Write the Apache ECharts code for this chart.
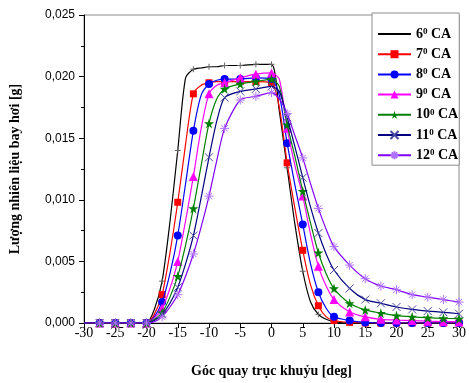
<!DOCTYPE html>
<html>
<head>
<meta charset="utf-8">
<script src="https://cdn.jsdelivr.net/npm/echarts@6/dist/echarts.min.js"></script>
<style>html,body{margin:0;padding:0;background:#fff}#c{width:469px;height:383px}</style>
</head>
<body>
<div id="c"></div>
<script>
// Crank angle (deg)
const angles = [-30,-27.5,-25,-22.5,-20,-18.75,-17.5,-16.25,-15,-13.75,-12.5,-11.25,-10,-8.75,-7.5,-5,-2.5,0,1.25,2.5,3.75,5,6.25,7.5,8.75,10,12.5,15,17.5,20,22.5,25,27.5,30];
// Evaporated fuel amount [g] per injection timing
const ca6  = [0,0,0,0,0,0.0011,0.0034,0.0082,0.0140,0.0199,0.0206,0.0207,0.0208,0.0208,0.0209,0.0209,0.0210,0.0210,0.0172,0.0126,0.0080,0.0042,0.0017,0.0007,0.0003,0.0001,0,0,0,0,0,0,0,0];
const ca7  = [0,0,0,0,0,0.0007,0.0023,0.0057,0.0098,0.0145,0.0186,0.0193,0.0195,0.0196,0.0196,0.0196,0.0196,0.0195,0.0175,0.0130,0.0093,0.0059,0.0031,0.0014,0.0005,0.0002,0.00005,0,0,0,0,0,0,0];
const ca8  = [0,0,0,0,0,0.0005,0.0017,0.0040,0.0071,0.0113,0.0156,0.0185,0.0194,0.0197,0.0198,0.0198,0.0199,0.0198,0.0185,0.0146,0.0112,0.0080,0.0048,0.0025,0.0012,0.0005,0.0002,0.00005,0,0,0,0,0,0];
const ca9  = [0,0,0,0,0,0.0004,0.0012,0.0028,0.0050,0.0083,0.0119,0.0158,0.0186,0.0193,0.0195,0.0199,0.0202,0.0203,0.0198,0.0158,0.0128,0.0103,0.0072,0.0046,0.0030,0.0019,0.0009,0.0005,0.0003,0.00024,0.0002,0.00015,0.00012,0.0001];
const ca10 = [0,0,0,0,0,0.0003,0.00084,0.0021,0.0038,0.0063,0.0093,0.0128,0.0162,0.0182,0.0190,0.0194,0.0196,0.0198,0.0192,0.0161,0.0135,0.0107,0.0081,0.0057,0.0040,0.0028,0.0016,0.00106,0.0008,0.0006,0.0005,0.00043,0.00038,0.00035];
const ca11 = [0,0,0,0,0,0.0002,0.0007,0.0016,0.0029,0.0048,0.0071,0.0102,0.01345,0.0164,0.0183,0.0188,0.0190,0.0192,0.0188,0.0167,0.0143,0.0118,0.0094,0.0073,0.0056,0.0043,0.0028,0.0019,0.0016,0.0013,0.0011,0.00097,0.00087,0.00075];
const ca12 = [0,0,0,0,0,0.0001,0.0005,0.0013,0.0023,0.0038,0.0056,0.0078,0.0103,0.0132,0.0158,0.0181,0.0184,0.0187,0.0182,0.0170,0.0152,0.0134,0.0113,0.0093,0.0076,0.0062,0.0047,0.0036,0.0030,0.0027,0.0023,0.0021,0.0019,0.0017];
const seriesNames = ['6','7','8','9','10','11','12'];
const xTicks = {min:-30, max:30, interval:5};
const yTicks = {min:0, max:0.025, interval:0.005};

const values = [ca6, ca7, ca8, ca9, ca10, ca11, ca12];
const styles = [
  {color:'#000000', symbol:'path://M5,0L5,10M0,5L10,5', size:6, stroke:'#666666', bw:1},
  {color:'#ff0000', symbol:'rect', size:7},
  {color:'#0000ff', symbol:'circle', size:8},
  {color:'#ff00ff', symbol:'triangle', size:9},
  {color:'#008000', symbol:'path://M50,0L61,35L98,35L68,57L79,91L50,70L21,91L32,57L2,35L39,35Z', size:10},
  {color:'#000080', symbol:'path://M0,0L10,10M10,0L0,10', size:8, stroke:'#4a4aa0', bw:1},
  {color:'#8000ff', symbol:'path://M5,0L5,10M0,5L10,5M1.5,1.5L8.5,8.5M8.5,1.5L1.5,8.5', size:9, stroke:'#b070ff', bw:1}
];
function isMarker(a){ const k=a/2.5; return Math.abs(k-Math.round(k))<1e-9 && a>-30; }

const series = values.map((v,si)=>{
  const st = styles[si];
  return {
    name: seriesNames[si],
    type:'line',
    smooth:0.25,
    showAllSymbol:true,
    symbol: st.symbol,
    symbolSize: st.size,
    lineStyle:{color:st.color, width:1.2},
    itemStyle:{color: st.stroke ? 'rgba(0,0,0,0)' : st.color, borderColor: st.stroke || st.color, borderWidth: st.bw || 0},
    data: angles.map((a,i)=> isMarker(a) ? {value:[a,v[i]]} : {value:[a,v[i]], symbol:'none'}),
    animation:false,
    z: 2+si
  };
});

const legendData = seriesNames.map((n,i)=> i===0
  ? {name:n, itemStyle:{color:'rgba(0,0,0,0)', borderColor:'rgba(0,0,0,0)', borderWidth:0}}
  : {name:n});

const chart = echarts.init(document.getElementById('c'), null, {renderer:'canvas'});
chart.setOption({
  backgroundColor:'#fff',
  animation:false,
  grid:{left:84, right:9, top:15, bottom:60, show:true, borderColor:'#8c8c8c', borderWidth:1, backgroundColor:'transparent'},
  legend:{
    orient:'vertical', left:372, top:13,
    padding:[14,1,3,5],
    borderColor:'#8c8c8c', borderWidth:1, backgroundColor:'#fff',
    itemWidth:33, itemHeight:10, itemGap:6.2,
    formatter: n => `{a|${n}}{s|0}{a| CA}`,
    textStyle:{
      rich:{
        a:{fontFamily:'Liberation Serif', fontWeight:'bold', fontSize:14, color:'#000', lineHeight:14},
        s:{fontFamily:'Liberation Serif', fontWeight:'bold', fontSize:9, color:'#000', lineHeight:14, verticalAlign:'top', padding:[0,0,5,0]}
      }
    },
    data: legendData
  },
  xAxis:{
    type:'value', min:xTicks.min, max:xTicks.max, interval:xTicks.interval,
    name:'Góc quay trục khuỷu [deg]', nameLocation:'middle', nameGap:41,
    nameTextStyle:{fontFamily:'Liberation Serif', fontWeight:'bold', fontSize:14, color:'#000'},
    axisLine:{show:true, onZero:false, lineStyle:{color:'#000', width:1}},
    axisTick:{show:true, length:5, lineStyle:{color:'#000'}},
    axisLabel:{margin:3, fontFamily:'Liberation Serif', fontSize:14, color:'#000'},
    splitLine:{show:false}
  },
  yAxis:{
    type:'value', min:yTicks.min, max:yTicks.max, interval:yTicks.interval,
    name:'Lượng nhiên liệu bay hơi [g]', nameLocation:'middle', nameGap:62, nameRotate:90,
    nameTextStyle:{fontFamily:'Liberation Serif', fontWeight:'bold', fontSize:14, color:'#000'},
    axisLine:{show:true, onZero:false, lineStyle:{color:'#000', width:1}},
    axisTick:{show:true, length:5, lineStyle:{color:'#000'}},
    minorTick:{show:true, splitNumber:2, length:3, lineStyle:{color:'#000'}},
    axisLabel:{margin:9, fontFamily:'Liberation Sans', fontSize:12, color:'#000', formatter: v => v.toFixed(3).replace('.', ',')},
    splitLine:{show:false}
  },
  series: series
});
</script>
</body>
</html>
